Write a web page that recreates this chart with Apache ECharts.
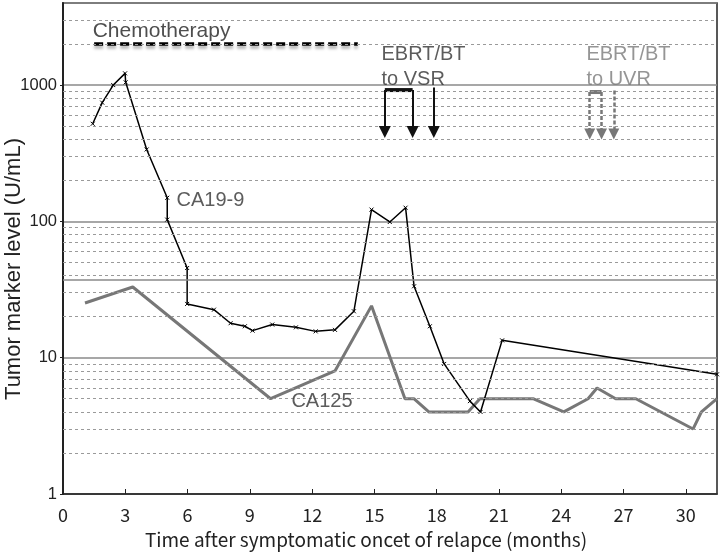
<!DOCTYPE html>
<html><head><meta charset="utf-8">
<script src="https://cdn.jsdelivr.net/npm/echarts@6/dist/echarts.min.js"></script>
<style>html,body{margin:0;padding:0;background:#fff}#c{width:720px;height:554px}</style>
</head><body><div id="c"></div>
<script>
// ---- data ----
const ca199Months = [1.43,1.89,2.42,2.99,3.02,4.03,5.02,5.02,5.98,5.98,7.27,8.07,8.76,9.13,10.08,11.22,12.17,13.1,14.01,14.86,15.74,16.5,16.91,17.67,18.36,19.6,20.11,21.15,31.5];
const ca199Values = [520,743,1000,1219,1047,337,149,103,45.5,24.8,22.5,17.9,17.0,15.8,17.5,16.7,15.6,16.0,21.9,122,99,126,33.4,17,9.0,4.8,4.0,13.4,7.55];
const ca125Months = [1.06,3.36,10.0,13.1,14.86,16.47,16.9,17.62,19.51,20.08,22.64,24.12,25.29,25.72,26.62,27.59,30.35,30.75,31.5];
const ca125Values = [25.2,33,5,8,24,5,5,4,4,5,5,4,5,6,5,5,3,4,5];
const xTicks = [0,3,6,9,12,15,18,21,24,27,30];
const minorGrid = [2,3,4,5,6,7,8,9,20,30,40,50,60,70,80,90,200,300,400,500,600,700,800,900,2000,3000];
const cutoffLine = [37];
const chemoMonths = [1.5, 14.2];
const chemoLevel = 2000;
const vsrArrowMonths = [15.5, 16.84, 17.86];
const vsrArrowTops = [919, 919, 960];
const vsrArrowBottom = 453;
const uvrArrowMonths = [25.37, 25.94, 26.53];
const uvrArrowTops = [889, 889, 914];
const uvrArrowBottom = 438;
const labelTexts = ['Chemotherapy','EBRT/BT\nto VSR','EBRT/BT\nto UVR','CA19-9','CA125'];
const labelAnchors = [[1.43,2467],[15.34,1361],[25.21,1361],[5.47,142],[11.0,4.77]];
const labelSizes = [21,20,20,20,20];
const labelColors = ['#222','#333','#7a7a7a','#333','#333'];

const zip = (a,b)=>a.map((v,i)=>[v,b[i]]);
const SANS = 'Liberation Sans';
const JP = 'Noto Sans CJK JP';

const chart = echarts.init(document.getElementById('c'), null, {renderer:'canvas'});
chart.setOption({
  animation:false,
  backgroundColor:'#fff',
  grid:{left:63,right:3,top:3,bottom:60,containLabel:false,outerBoundsMode:'none',
    show:true,borderColor:'#222',borderWidth:1.5,backgroundColor:'transparent'},
  xAxis:{
    type:'value',min:0,max:31.5,interval:3,
    name:'Time after symptomatic oncet of relapce (months)',
    nameLocation:'middle',nameGap:36,nameMoveOverlap:false,
    nameTextStyle:{fontFamily:JP,fontSize:19,color:'#222',padding:[0,48,0,0]},
    axisLine:{lineStyle:{color:'#222',width:1.5}},
    axisTick:{inside:true,length:5,lineStyle:{color:'#222'}},
    axisLabel:{fontFamily:JP,fontSize:18,color:'#222',margin:12,showMaxLabel:false,
      formatter:v=>xTicks.includes(v)?String(v):''},
    splitLine:{show:false}
  },
  yAxis:{
    type:'log',logBase:10,min:1,max:4000,
    name:'Tumor marker level (U/mL)',
    nameLocation:'middle',nameGap:38,nameMoveOverlap:false,
    nameTextStyle:{fontFamily:SANS,fontSize:22,color:'#222',padding:[0,41,0,0]},
    axisLine:{show:true,lineStyle:{color:'#222',width:2}},
    axisTick:{show:true,length:3,lineStyle:{color:'#222'}},
    axisLabel:{fontFamily:SANS,fontSize:16.5,color:'#222',margin:6,showMaxLabel:false,
      formatter:v=>String(Math.round(v))},
    splitLine:{show:true,lineStyle:{color:'#8a8a8a',width:1.5}}
  },
  series:[
    {type:'line',data:[],silent:true,
     markLine:{silent:true,symbol:['none','none'],label:{show:false},
       lineStyle:{color:'#9a9a9a',width:1,type:[3,3]},
       data:minorGrid.map(v=>({yAxis:v}))}},
    {type:'line',data:[],silent:true,
     markLine:{silent:true,symbol:['none','none'],label:{show:false},
       lineStyle:{color:'#8a8a8a',width:1.5,type:'solid'},
       data:cutoffLine.map(v=>({yAxis:v}))}},
    {name:'CA125',type:'line',data:zip(ca125Months,ca125Values),showSymbol:false,symbol:'none',
     lineStyle:{color:'#777',width:3},silent:true,z:3},
    {name:'CA19-9',type:'line',data:zip(ca199Months,ca199Values),
     symbol:'path://M0,0L10,10M10,0L0,10',symbolSize:4,
     itemStyle:{color:'#000',borderColor:'#000',borderWidth:1},
     lineStyle:{color:'#000',width:1.5},silent:true,z:4},
    {name:'chemo',type:'line',data:chemoMonths.map(m=>[m,chemoLevel]),symbol:'none',silent:true,
     lineStyle:{color:'#000',width:3.5,type:[9,4],shadowColor:'rgba(0,0,0,0.3)',shadowBlur:3,shadowOffsetY:3}},
    {name:'vsrBracket',type:'line',data:[[vsrArrowMonths[0],vsrArrowTops[0]],[vsrArrowMonths[1],vsrArrowTops[1]]],
     symbol:'none',silent:true,lineStyle:{color:'#111',width:4}},
    {type:'line',data:[],silent:true,
     markLine:{silent:true,symbol:['none','triangle'],symbolSize:12,label:{show:false},
       lineStyle:{color:'#111',width:2,type:'solid'},
       data:vsrArrowMonths.map((m,i)=>[{coord:[m,vsrArrowTops[i]]},{coord:[m,vsrArrowBottom]}])}},
    {name:'uvrBracket',type:'line',data:[[uvrArrowMonths[0],uvrArrowTops[0]],[uvrArrowMonths[1],uvrArrowTops[1]]],
     symbol:'none',silent:true,lineStyle:{color:'#777',width:4}},
    {type:'line',data:[],silent:true,
     markLine:{silent:true,symbol:['none','triangle'],symbolSize:11,label:{show:false},
       lineStyle:{color:'#777',width:2.5,type:[4,2]},
       data:uvrArrowMonths.map((m,i)=>[{coord:[m,uvrArrowTops[i]]},{coord:[m,uvrArrowBottom]}])}},
    {type:'scatter',symbolSize:0,silent:true,z:10,
     data:labelTexts.map((t,i)=>({value:labelAnchors[i],
       label:{show:true,position:'right',distance:0,formatter:t,fontFamily:SANS,fontSize:labelSizes[i],
         lineHeight:25,color:labelColors[i],align:'left'}}))}
  ]
});
</script></body></html>
